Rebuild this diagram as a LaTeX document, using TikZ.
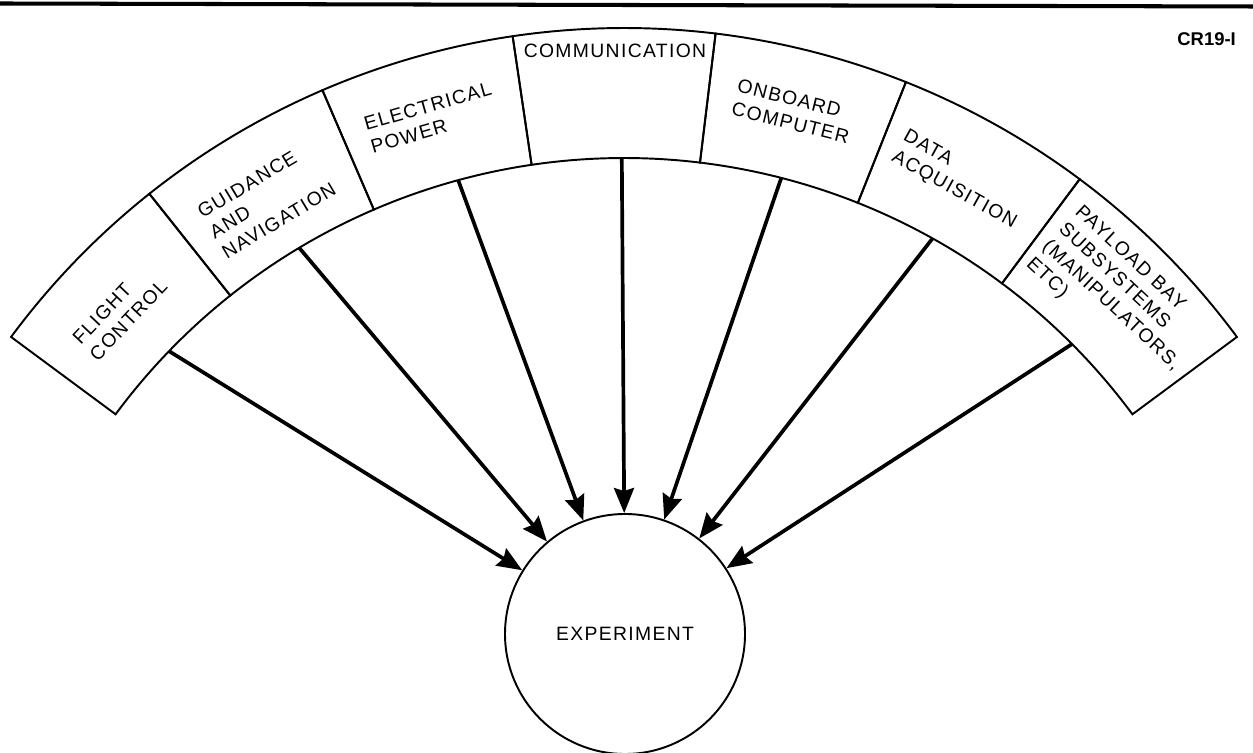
\documentclass[tikz,border=0pt]{standalone}
\usepackage{fontspec}
\setmainfont{Liberation Sans}
\newfontfamily\labelfont[LetterSpace=7]{Liberation Sans}
\usetikzlibrary{arrows.meta}

\begin{document}
\begin{tikzpicture}[
    segment/.style={draw=black, line width=1.1pt},
    seglabel/.style={align=left, inner sep=0pt, font=\labelfont\fontsize{11}{13.5}\selectfont},
    feed/.style={line width=2.1pt, -{Stealth[length=0.5cm, width=0.4cm, inset=0.06cm]}}
]
    \def\cx{12.48}
    \def\cy{-0.77}
    \def\rin{12.65}
    \def\rout{15.25}
    \def\rtext{13.9}

    \useasboundingbox (0,0) rectangle (25.06,15.04);

    % Draw the rule along the top
    \draw[line width=2.3pt] (0,14.97) -- (25.06,14.91);
    \node[anchor=east, font=\bfseries\fontsize{10.5}{12}\selectfont] (tag) at (24.84,14.25) {CR19-I};

    \begin{scope}[shift={(\cx,\cy)}]
        % Draw the arc of subsystem boxes
        \foreach \a/\b in {143.5/128.5, 128.5/113.3, 113.3/98.4, 98.4/83.1, 83.1/68.3, 68.3/53.3, 53.3/36.5}
            \draw[segment] (\a:\rin) arc[start angle=\a, end angle=\b, radius=\rin]
                -- (\b:\rout) arc[start angle=\b, end angle=\a, radius=\rout] -- cycle;

        \node[seglabel, rotate=46.5] (flight) at (136.5:\rtext) {FLIGHT\\CONTROL};
        \node[seglabel, rotate=31] (guid) at (121.2:13.8) {GUIDANCE\\AND\\NAVIGATION};
        \node[seglabel, rotate=16] (power) at (106:14.0) {ELECTRICAL\\POWER};
        \node[seglabel] (comm) at (90.7:14.8) {COMMUNICATION};
        \node[seglabel, rotate=-14] (comp) at (76:14.0) {ONBOARD\\COMPUTER};
        \node[seglabel, rotate=-29] (data) at (61.2:13.94) {DATA\\ACQUISITION};
        \node[seglabel, rotate=-43] (bay) at (44.9:13.98) {PAYLOAD BAY\\SUBSYSTEMS\\(MANIPULATORS,\\ETC)};

        % Feet of the arrows on the inner arc
        \coordinate (flightfoot) at (136:\rin);
        \coordinate (guidfoot) at (120.9:\rin);
        \coordinate (powerfoot) at (105.2:\rin);
        \coordinate (commfoot) at (90.2:\rin);
        \coordinate (compfoot) at (75.6:\rin);
        \coordinate (datafoot) at (60.8:\rin);
        \coordinate (bayfoot) at (44.9:\rin);
    \end{scope}

    \node[draw, circle, line width=1.1pt, minimum size=4.8cm, font=\labelfont\fontsize{11}{13.5}\selectfont] (exp) at (12.5,2.36) {EXPERIMENT};

    % Draw the arrows into the experiment
    \draw[feed] (flightfoot) -- (exp);
    \draw[feed] (guidfoot) -- (exp);
    \draw[feed] (powerfoot) -- (exp);
    \draw[feed] (commfoot) -- (exp);
    \draw[feed] (compfoot) -- (exp);
    \draw[feed] (datafoot) -- (exp);
    \draw[feed] (bayfoot) -- (exp);
\end{tikzpicture}
\end{document}
